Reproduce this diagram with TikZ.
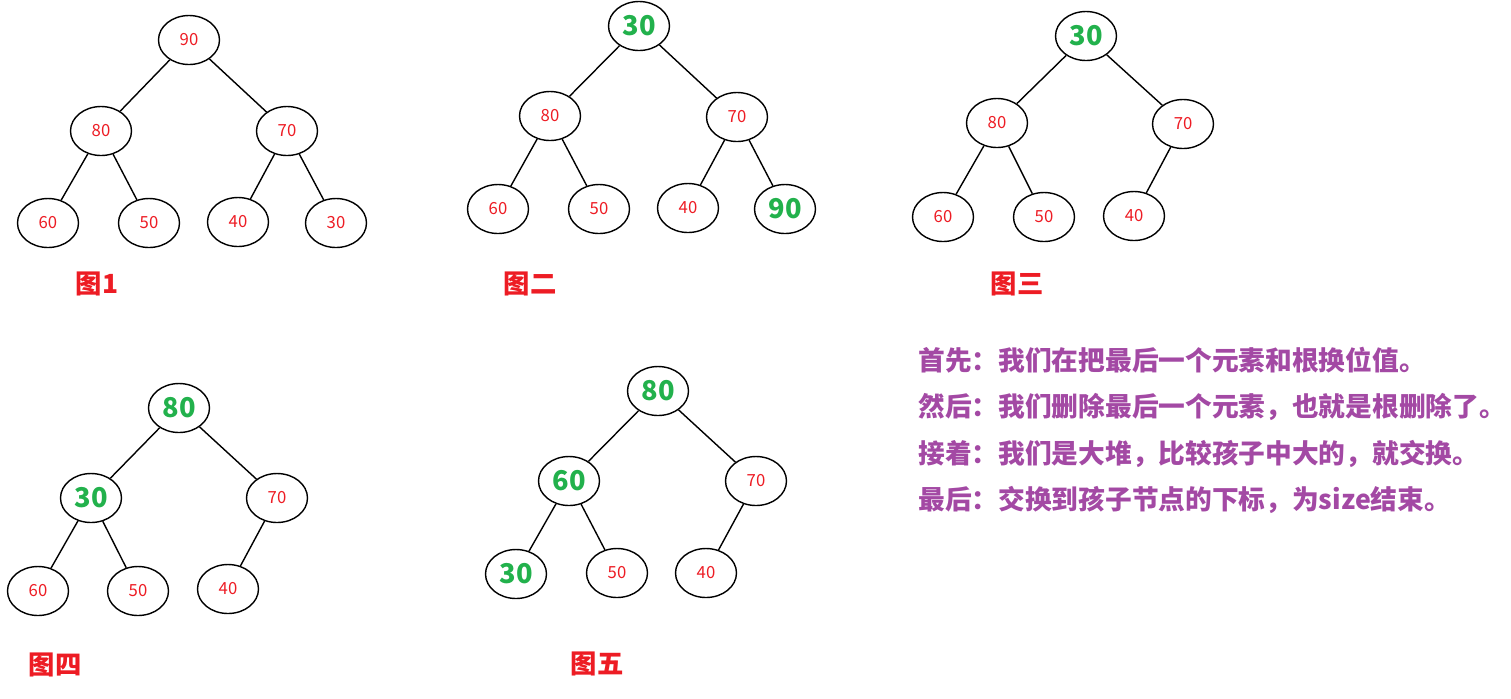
\documentclass[tikz,border=0pt]{standalone}
\usepackage{fontspec}
\setmainfont{Noto Sans CJK SC}
\usepackage{xcolor}
\usepackage{tikz}
\usetikzlibrary{shapes.geometric}
\definecolor{heapred}{HTML}{ED1C24}
\definecolor{heapgreen}{HTML}{22B14C}
\definecolor{notepurple}{HTML}{A349A4}

\begin{document}
\begin{tikzpicture}[
    x=0.02cm, y=-0.02cm,
    nd/.style={ellipse, draw=black, line width=0.8pt, minimum width=1.22cm, minimum height=0.98cm, inner sep=0pt},
    val/.style={nd, text=heapred, font=\fontsize{9.5}{10}\selectfont},
    hot/.style={nd, text=heapgreen, font=\fontsize{15.5}{16}\selectfont\bfseries},
    edge/.style={line width=0.8pt, black},
    figlabel/.style={text=heapred, font=\fontsize{15}{16}\selectfont\bfseries},
    note/.style={anchor=west, inner sep=0pt, text=notepurple, font=\fontsize{15.2}{17}\selectfont\bfseries}
]
\useasboundingbox (0,0) rectangle (1511,698);

% Figure 1: original heap
\node[val] (a1) at (189,40) {90};
\node[val] (a2) at (101,131) {80};
\node[val] (a3) at (287,131) {70};
\node[val] (a4) at (48,223) {60};
\node[val] (a5) at (149,223) {50};
\node[val] (a6) at (238,222) {40};
\node[val] (a7) at (336,223) {30};
\draw[edge] (a1) -- (a2);
\draw[edge] (a1) -- (a3);
\draw[edge] (a2) -- (a4);
\draw[edge] (a2) -- (a5);
\draw[edge] (a3) -- (a6);
\draw[edge] (a3) -- (a7);
\node[figlabel] (fig1) at (97,284) {图1};

% Figure 2: swap root and last
\node[hot] (b1) at (639,26) {30};
\node[val] (b2) at (550,116) {80};
\node[val] (b3) at (737,117) {70};
\node[val] (b4) at (498,209) {60};
\node[val] (b5) at (599,209) {50};
\node[val] (b6) at (688,208) {40};
\node[hot] (b7) at (785,209) {90};
\draw[edge] (b1) -- (b2);
\draw[edge] (b1) -- (b3);
\draw[edge] (b2) -- (b4);
\draw[edge] (b2) -- (b5);
\draw[edge] (b3) -- (b6);
\draw[edge] (b3) -- (b7);
\node[figlabel] (fig2) at (530,284) {图二};

% Figure 3: last removed
\node[hot] (c1) at (1086,36) {30};
\node[val] (c2) at (997,123) {80};
\node[val] (c3) at (1183,124) {70};
\node[val] (c4) at (943,217) {60};
\node[val] (c5) at (1044,217) {50};
\node[val] (c6) at (1134,216) {40};
\draw[edge] (c1) -- (c2);
\draw[edge] (c1) -- (c3);
\draw[edge] (c2) -- (c4);
\draw[edge] (c2) -- (c5);
\draw[edge] (c3) -- (c6);
\node[figlabel] (fig3) at (1017,284) {图三};

% Figure 4: first sift down
\node[hot] (d1) at (179,408) {80};
\node[hot] (d2) at (91,498) {30};
\node[val] (d3) at (277,498) {70};
\node[val] (d4) at (38,591) {60};
\node[val] (d5) at (138,591) {50};
\node[val] (d6) at (228,589) {40};
\draw[edge] (d1) -- (d2);
\draw[edge] (d1) -- (d3);
\draw[edge] (d2) -- (d4);
\draw[edge] (d2) -- (d5);
\draw[edge] (d3) -- (d6);
\node[figlabel] (fig4) at (55,665) {图四};

% Figure 5: second sift down
\node[hot] (e1) at (658,391) {80};
\node[hot] (e2) at (569,481) {60};
\node[val] (e3) at (756,481) {70};
\node[hot] (e4) at (516,574) {30};
\node[val] (e5) at (617,573) {50};
\node[val] (e6) at (706,573) {40};
\draw[edge] (e1) -- (e2);
\draw[edge] (e1) -- (e3);
\draw[edge] (e2) -- (e4);
\draw[edge] (e2) -- (e5);
\draw[edge] (e3) -- (e6);
\node[figlabel] (fig5) at (597,664) {图五};

% Notes
\node[note] (n1) at (918,360) {首先：我们在把最后一个元素和根换位值。};
\node[note] (n2) at (918,407) {然后：我们删除最后一个元素，也就是根删除了。};
\node[note] (n3) at (918,454) {接着：我们是大堆，比较孩子中大的，就交换。};
\node[note] (n4) at (918,500) {最后：交换到孩子节点的下标，为size结束。};

\end{tikzpicture}
\end{document}
